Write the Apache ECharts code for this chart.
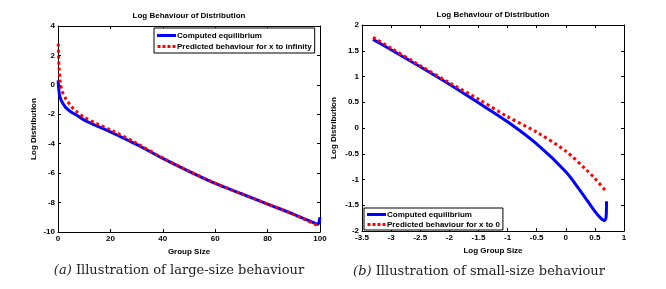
<!DOCTYPE html>
<html>
<head>
<meta charset="utf-8">
<script src="https://cdn.jsdelivr.net/npm/echarts@6/dist/echarts.min.js"></script>
<style>
html,body{margin:0;padding:0;background:#fff;}
#chart{width:666px;height:289px;}
</style>
</head>
<body>
<div id="chart"></div>
<script>
// ---- Data ----
const titleText = 'Log Behaviour of Distribution';
const legendComputed = 'Computed equilibrium';
const legendInf = 'Predicted behaviour for x to infinity';
const legendZero = 'Predicted behaviour for x to 0';

// Left panel: Group Size vs Log Distribution
const leftCompX = [0.05, 0.3, 0.6, 1, 2, 3, 5, 7, 10, 15, 20, 25, 30, 40, 50, 60, 70, 80, 90, 98, 99, 99.5, 100];
const leftCompY = [0.3, -0.3, -0.7, -0.95, -1.3, -1.55, -1.85, -2.05, -2.4, -2.8, -3.2, -3.62, -4.05, -5.0, -5.88, -6.7, -7.4, -8.1, -8.8, -9.4, -9.48, -9.4, -9.0];
const leftPredX = [0.1, 0.2, 0.4, 0.7, 1, 1.5, 2, 3, 5, 7, 10, 15, 20, 30, 40, 50, 60, 70, 80, 90, 99];
const leftPredY = [2.8, 2.0, 1.2, 0.4, 0.05, -0.4, -0.6, -0.95, -1.45, -1.8, -2.2, -2.65, -3.05, -3.97, -4.97, -5.86, -6.68, -7.4, -8.1, -8.8, -9.55];

// Right panel: Log Group Size vs Log Distribution
const rightCompX = [-3.31, -3.0, -2.5, -2.0, -1.5, -1.0, -0.5, 0, 0.25, 0.5, 0.6, 0.66, 0.69, 0.70];
const rightCompY = [1.72, 1.52, 1.19, 0.85, 0.49, 0.12, -0.31, -0.85, -1.22, -1.62, -1.75, -1.80, -1.75, -1.42];
const rightPredX = [-3.31, -3.0, -2.5, -2.0, -1.5, -1.0, -0.5, 0, 0.36, 0.5, 0.7];
const rightPredY = [1.76, 1.55, 1.21, 0.88, 0.56, 0.22, -0.08, -0.45, -0.82, -0.98, -1.24];

const leftXName = 'Group Size';
const rightXName = 'Log Group Size';
const yName = 'Log Distribution';
const captionA = ['(a)', ' Illustration of large-size behaviour'];
const captionB = ['(b)', ' Illustration of small-size behaviour'];

// ---- Helpers ----
function pairs(xs, ys) { return xs.map((x, i) => [x, ys[i]]); }
const FONT = 'Liberation Sans, Arial, sans-serif';
const SERIF = 'DejaVu Serif, Liberation Serif, serif';
const lblStyle = { color: '#000', fontFamily: FONT, fontWeight: 'bold', fontSize: 8 };
const ICON_SOLID = 'path://M0,0H19V3H0Z';
const ICON_DASH = 'path://M0,0H3V3H0Z M5,0H8V3H5Z M10,0H13V3H10Z M15,0H18V3H15Z';

function mkX(gridIndex, min, max, interval, name, pos, show) {
  return {
    type: 'value', gridIndex, min, max, interval, position: pos,
    name: show ? name : '', nameLocation: 'middle', nameGap: 14,
    nameTextStyle: lblStyle,
    axisLine: { show: true, onZero: false, lineStyle: { color: '#000', width: 1 } },
    axisTick: { show: true, inside: true, length: 3, lineStyle: { color: '#000' } },
    axisLabel: Object.assign({ show: show, margin: 3 }, lblStyle),
    splitLine: { show: false }
  };
}
function mkY(gridIndex, min, max, interval, name, pos, show, gap) {
  return {
    type: 'value', gridIndex, min, max, interval, position: pos,
    name: show ? name : '', nameLocation: 'middle', nameGap: gap,
    nameTextStyle: lblStyle,
    axisLine: { show: true, onZero: false, lineStyle: { color: '#000', width: 1 } },
    axisTick: { show: true, inside: true, length: 3, lineStyle: { color: '#000' } },
    axisLabel: Object.assign({ show: show, margin: 3 }, lblStyle),
    splitLine: { show: false }
  };
}

const blueLine = { color: '#0000ff', width: 3 };
const redLine = { color: '#ff0000', width: 3, type: [3, 3] };

const legendBase = {
  orient: 'vertical', itemWidth: 19, itemHeight: 3, itemGap: 2,
  borderColor: '#000', borderWidth: 1, backgroundColor: '#fff',
  itemStyle: { borderWidth: 0 },
  textStyle: Object.assign({ padding: [0, 0, 0, -4], lineHeight: 9 }, lblStyle),
  selectedMode: false
};

const chart = echarts.init(document.getElementById('chart'), null, { renderer: 'canvas' });
chart.setOption({
  animation: false,
  backgroundColor: '#fff',
  grid: [
    { left: 58, top: 26, width: 262, height: 206 },
    { left: 362, top: 25, width: 262, height: 206 }
  ],
  xAxis: [
    mkX(0, 0, 100, 20, leftXName, 'bottom', true),
    mkX(0, 0, 100, 20, '', 'top', false),
    mkX(1, -3.5, 1, 0.5, rightXName, 'bottom', true),
    mkX(1, -3.5, 1, 0.5, '', 'top', false)
  ],
  yAxis: [
    mkY(0, -10, 4, 2, yName, 'left', true, 20),
    mkY(0, -10, 4, 2, '', 'right', false, 0),
    mkY(1, -2, 2, 0.5, yName, 'right', false, 0),
    mkY(1, -2, 2, 0.5, yName, 'left', true, 24)
  ],
  legend: [
    Object.assign({}, legendBase, {
      left: 154, top: 28, padding: [3, 3, 2, 3],
      data: [{ name: legendComputed, icon: ICON_SOLID }, { name: legendInf, icon: ICON_DASH }]
    }),
    Object.assign({}, legendBase, {
      left: 364, top: 208, padding: [2, 3, 1, 3], itemGap: 1,
      data: [{ name: legendComputed, icon: ICON_SOLID }, { name: legendZero, icon: ICON_DASH }]
    })
  ],
  series: [
    { name: legendComputed, type: 'line', xAxisIndex: 0, yAxisIndex: 0, data: pairs(leftCompX, leftCompY),
      symbol: 'none', smooth: 0.3, lineStyle: blueLine, itemStyle: { color: '#0000ff' }, z: 2 },
    { name: legendInf, type: 'line', xAxisIndex: 0, yAxisIndex: 0, data: pairs(leftPredX, leftPredY),
      symbol: 'none', smooth: 0.3, lineStyle: redLine, itemStyle: { color: '#ff0000' }, z: 3 },
    { name: legendComputed, type: 'line', xAxisIndex: 2, yAxisIndex: 3, data: pairs(rightCompX, rightCompY),
      symbol: 'none', smooth: 0.3, lineStyle: blueLine, itemStyle: { color: '#0000ff' }, z: 2 },
    { name: legendZero, type: 'line', xAxisIndex: 2, yAxisIndex: 3, data: pairs(rightPredX, rightPredY),
      symbol: 'none', smooth: 0.3, lineStyle: redLine, itemStyle: { color: '#ff0000' }, z: 3 }
  ],
  graphic: [
    { type: 'text', x: 189, y: 16, style: { text: titleText, align: 'center', verticalAlign: 'middle',
      font: 'bold 8px ' + FONT, fill: '#000' } },
    { type: 'text', x: 493, y: 15, style: { text: titleText, align: 'center', verticalAlign: 'middle',
      font: 'bold 8px ' + FONT, fill: '#000' } },
    { type: 'text', x: 179, y: 271, style: { text: '{i|' + captionA[0] + '}' + captionA[1], align: 'center', verticalAlign: 'middle',
      fontFamily: SERIF, fontSize: 13, fill: '#222', rich: { i: { fontStyle: 'italic', fontFamily: SERIF, fontSize: 13, fill: '#222' } } } },
    { type: 'text', x: 479, y: 272, style: { text: '{i|' + captionB[0] + '}' + captionB[1], align: 'center', verticalAlign: 'middle',
      fontFamily: SERIF, fontSize: 13, fill: '#222', rich: { i: { fontStyle: 'italic', fontFamily: SERIF, fontSize: 13, fill: '#222' } } } }
  ]
});
</script>
</body>
</html>
